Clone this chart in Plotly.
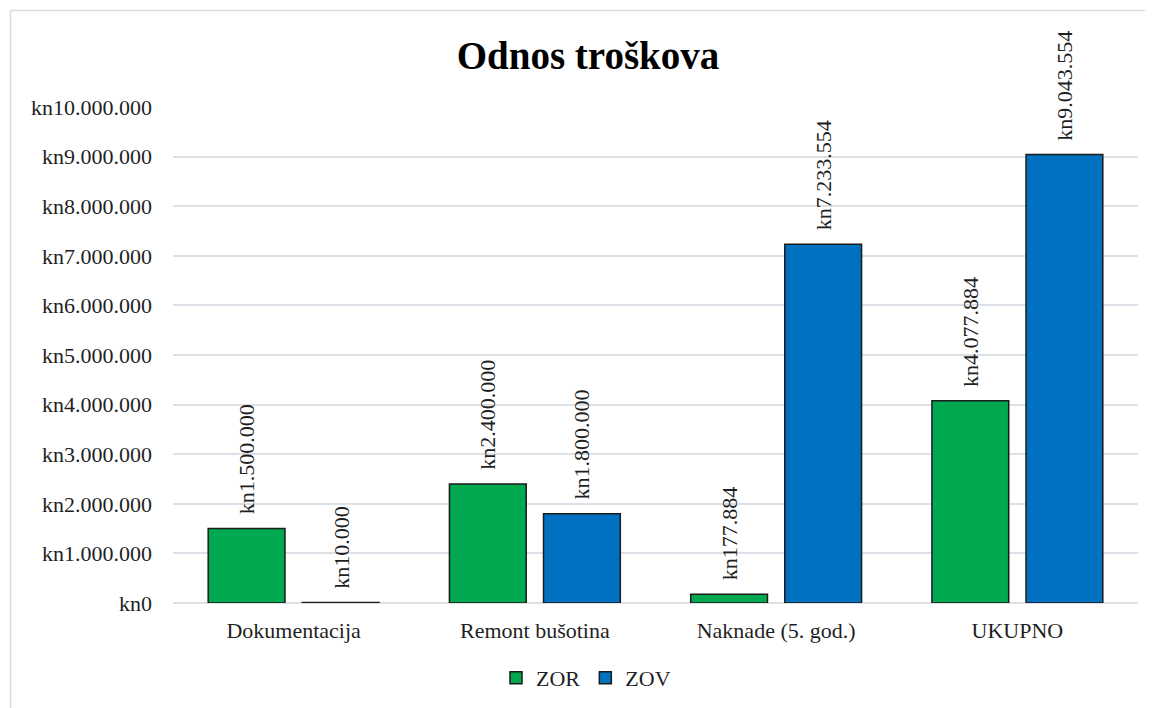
import plotly.graph_objects as go

categories = ["Dokumentacija", "Remont bušotina", "Naknade (5. god.)", "UKUPNO"]
zor_values = [1500000, 2400000, 177884, 4077884]
zov_values = [10000, 1800000, 7233554, 9043554]
tick_values = [0, 1000000, 2000000, 3000000, 4000000, 5000000, 6000000, 7000000, 8000000, 9000000, 10000000]


def kn(v):
    return "kn" + f"{v:,}".replace(",", ".")


FONT = "Liberation Serif"
TXT = "#1f1f1f"

# the page body has an 8px margin; figure is laid out in shifted pixel coords
OFF = 8
PL, PR, PT, PB = 173 - OFF, 1138 - OFF, 107 - OFF, 603 - OFF
W, H = 1153, 708
PW, PH = PR - PL, PB - PT


def px(xp):
    return (xp - OFF - PL) / PW


def py(yp):
    return (PB - (yp - OFF)) / PH


fig = go.Figure()
fig.add_trace(go.Bar(
    name="ZOR", x=categories, y=zor_values,
    marker=dict(color="#00A84F", line=dict(color="#1a1a1a", width=1.5)),
))
fig.add_trace(go.Bar(
    name="ZOV", x=categories, y=zov_values,
    marker=dict(color="#0070C0", line=dict(color="#1a1a1a", width=1.5)),
))

annotations = []
for vals, shift in ((zor_values, -47), (zov_values, 47)):
    for c, v in zip(categories, vals):
        annotations.append(dict(
            x=c, y=v, xref="x", yref="y", text=kn(v), showarrow=False,
            textangle=-90, xanchor="center", yanchor="bottom",
            xshift=shift, yshift=12,
            font=dict(family=FONT, size=22, color=TXT),
        ))

fig.update_layout(
    width=W, height=H,
    margin=dict(l=PL, r=W - PR, t=PT, b=H - PB),
    paper_bgcolor="white", plot_bgcolor="white",
    barmode="group", bargap=0.22, bargroupgap=0.184,
    font=dict(family=FONT, size=22, color=TXT),
    title=dict(text="<b>Odnos troškova</b>", x=(588 - OFF) / W, xanchor="center",
               y=1 - (55 - OFF) / H, yanchor="middle", yref="container",
               font=dict(family=FONT, size=39, color="#000000")),
    legend=dict(orientation="h", x=(586 - OFF) / W, xanchor="center", xref="container",
                y=1 - (678 - OFF) / H, yanchor="middle", yref="container",
                font=dict(family=FONT, size=22, color=TXT),
                itemwidth=30, tracegroupgap=0),
    annotations=annotations,
    shapes=[
        dict(type="line", xref="paper", yref="paper",
             x0=px(10.5), x1=px(10.5), y0=py(10.5), y1=py(740),
             line=dict(color="#D9DCE3", width=1.5)),
        dict(type="line", xref="paper", yref="paper",
             x0=px(10.5), x1=px(1200), y0=py(10.5), y1=py(10.5),
             line=dict(color="#D9DCE3", width=1.5)),
    ],
)

fig.update_yaxes(
    range=[0, 10000000], tickvals=tick_values, ticktext=[kn(v) for v in tick_values],
    showgrid=True, gridcolor="#DDE0E6", gridwidth=1.5,
    zeroline=True, zerolinecolor="#DDE0E6", zerolinewidth=2,
    showline=False, ticks="", ticklabelstandoff=20,
    tickfont=dict(family=FONT, size=22, color=TXT),
)
fig.update_xaxes(
    showline=False, ticks="", ticklabelstandoff=12,
    tickfont=dict(family=FONT, size=22, color=TXT),
)

fig.write_html("out.html")
